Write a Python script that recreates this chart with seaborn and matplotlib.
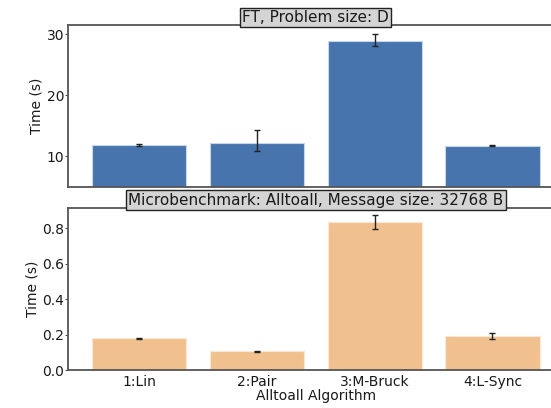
import matplotlib
matplotlib.use("Agg")
import matplotlib.pyplot as plt
import seaborn as sns
import pandas as pd
import numpy as np

algorithms = ["1:Lin", "2:Pair", "3:M-Bruck", "4:L-Sync"]
ft_times = [11.85, 12.2, 28.8, 11.75]
ft_err_low = [0.2, 1.3, 0.7, 0.1]
ft_err_high = [0.2, 2.1, 1.3, 0.1]
mb_times = [0.178, 0.105, 0.834, 0.192]
mb_err_low = [0.004, 0.003, 0.040, 0.015]
mb_err_high = [0.004, 0.003, 0.039, 0.015]

sns.set_style("ticks")
plt.rcParams['font.family'] = ['DejaVu Sans']

blue = "#4874AE"
orange = "#F0C18E"
spine_c = "#555555"
txt_c = "#1a1a1a"

fig = plt.figure(figsize=(5.51, 4.08), dpi=100)
ax1 = fig.add_axes([0.124, 0.5424, 0.898, 0.3963])
ax2 = fig.add_axes([0.124, 0.0931, 0.898, 0.3978])

df1 = pd.DataFrame({"alg": algorithms, "t": ft_times})
df2 = pd.DataFrame({"alg": algorithms, "t": mb_times})

sns.barplot(data=df1, x="alg", y="t", ax=ax1, color=blue, saturation=1,
            width=0.8, edgecolor="#c8d6ea", linewidth=0.8)
sns.barplot(data=df2, x="alg", y="t", ax=ax2, color=orange, saturation=1,
            width=0.8, edgecolor="#fbe7d3", linewidth=0.8)

xs = np.arange(len(algorithms))
ax1.errorbar(xs, ft_times, yerr=[ft_err_low, ft_err_high], fmt="none",
             ecolor="#222222", elinewidth=1.0, capsize=2.5, capthick=1.0)
ax2.errorbar(xs, mb_times, yerr=[mb_err_low, mb_err_high], fmt="none",
             ecolor="#222222", elinewidth=1.0, capsize=2.5, capthick=1.0)

for ax in (ax1, ax2):
    ax.set_xlim(-0.6, 3.6)
    for s in ax.spines.values():
        s.set_color(spine_c)
        s.set_linewidth(1.3)
    ax.tick_params(axis="both", labelsize=10, colors=txt_c, length=2,
                   width=0.8, color=spine_c, pad=1)
    ax.set_ylabel("Time (s)", fontsize=10, color=txt_c, labelpad=2)

ax1.set_ylim(5, 31.5)
ax1.set_yticks([10, 20, 30])
ax1.set_xlabel("")
ax1.set_xticks(xs)
ax1.set_xticklabels([])
ax1.tick_params(axis="x", length=0)

ax2.set_ylim(0, 0.916)
ax2.set_yticks([0.0, 0.2, 0.4, 0.6, 0.8])
ax2.tick_params(axis="x", length=0, pad=3.5)
ax2.set_xlabel("Alltoall Algorithm", fontsize=10, color=txt_c, labelpad=0)

box = dict(facecolor="#d4d4d4", edgecolor="#222222", boxstyle="square,pad=0.15", linewidth=1)
ax1.set_title("FT, Problem size: D", fontsize=11, bbox=box, pad=1.5, color=txt_c)
ax2.set_title("Microbenchmark: Alltoall, Message size: 32768 B", fontsize=11, bbox=box, pad=1.5, color=txt_c)

fig.savefig("out.png", dpi=100)
